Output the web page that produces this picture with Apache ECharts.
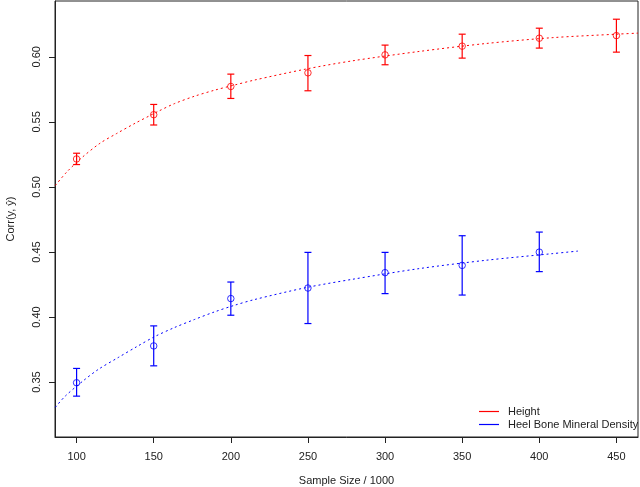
<!DOCTYPE html>
<html>
<head>
<meta charset="utf-8">
<script src="https://cdn.jsdelivr.net/npm/echarts@6/dist/echarts.min.js"></script>
<style>
html,body{margin:0;padding:0;background:#fff;}
#chart{width:640px;height:487px;}
</style>
</head>
<body>
<div id="chart"></div>
<script>
// ---- data ----
const xTicks = [100, 150, 200, 250, 300, 350, 400, 450];
const yTicks = [0.35, 0.40, 0.45, 0.50, 0.55, 0.60];

const heightSizes = [100, 150, 200, 250, 300, 350, 400, 450];
const heightMean  = [0.5215, 0.5555, 0.5772, 0.5877, 0.6015, 0.6082, 0.6143, 0.6163];
const heightLow   = [0.5172, 0.5476, 0.5680, 0.5739, 0.5939, 0.5990, 0.6067, 0.6036];
const heightHigh  = [0.5259, 0.5634, 0.5867, 0.6010, 0.6090, 0.6174, 0.6220, 0.6289];

const bmdSizes = [100, 150, 200, 250, 300, 350, 400];
const bmdMean  = [0.3495, 0.3778, 0.4142, 0.4223, 0.4341, 0.4397, 0.4499];
const bmdLow   = [0.3392, 0.3625, 0.4014, 0.3950, 0.4180, 0.4169, 0.4349];
const bmdHigh  = [0.3605, 0.3932, 0.4269, 0.4497, 0.4497, 0.4625, 0.4653];

// fitted curves
const heightCurveX = [86.2, 93.5, 103.2, 115.1, 125.9, 138.2, 147.5, 152.9, 163.4, 176.4, 189.3, 202.3, 215.2, 248.7, 278.8, 322, 365.2, 408.3, 450, 464];
const heightCurveY = [0.5011, 0.5113, 0.5223, 0.5335, 0.5410, 0.5491, 0.5548, 0.5581, 0.5640, 0.5697, 0.5743, 0.5783, 0.5821, 0.5906, 0.5969, 0.6041, 0.6102, 0.6147, 0.6174, 0.6182];
const bmdCurveX = [86.2, 92.7, 104.3, 114, 127, 138.8, 150.7, 163.4, 176.4, 189.3, 202.3, 215.2, 248.7, 278.8, 322, 365.2, 408.3, 425.1];
const bmdCurveY = [0.3306, 0.3393, 0.3510, 0.3597, 0.3689, 0.3771, 0.3850, 0.3919, 0.3981, 0.4039, 0.4090, 0.4134, 0.4226, 0.4290, 0.4372, 0.4436, 0.4487, 0.4507];

const RED = '#ff0000', BLUE = '#0000ff';
const FONT = "'Liberation Sans', Arial, Helvetica, sans-serif";

function zip(a, b) { return a.map((v, i) => [v, b[i]]); }
function barData(xs, lo, hi) { return xs.map((v, i) => [v, lo[i], hi[i]]); }

function errorBarRenderer(color) {
  return function (params, api) {
    const x = api.value(0);
    const pLo = api.coord([x, api.value(1)]);
    const pHi = api.coord([x, api.value(2)]);
    const hw = 3.5;
    const style = { stroke: color, lineWidth: 1.2, fill: null };
    return {
      type: 'group',
      children: [
        { type: 'line', shape: { x1: pLo[0], y1: pLo[1], x2: pHi[0], y2: pHi[1] }, style: style },
        { type: 'line', shape: { x1: pLo[0] - hw, y1: pLo[1], x2: pLo[0] + hw, y2: pLo[1] }, style: style },
        { type: 'line', shape: { x1: pHi[0] - hw, y1: pHi[1], x2: pHi[0] + hw, y2: pHi[1] }, style: style }
      ]
    };
  };
}

const chart = echarts.init(document.getElementById('chart'), null, { renderer: 'canvas' });
chart.setOption({
  animation: false,
  backgroundColor: '#fff',
  textStyle: { fontFamily: FONT },
  grid: { left: 55, right: 2, top: 1, bottom: 50, outerBoundsMode: 'none', containLabel: false,
    show: true, borderColor: '#222', borderWidth: 1, backgroundColor: 'transparent' },
  xAxis: {
    type: 'value', min: 86, max: 464,
    name: 'Sample Size / 1000', nameLocation: 'middle', nameGap: 38,
    nameTextStyle: { fontSize: 11, color: '#222', fontFamily: FONT },
    axisLine: { show: true, lineStyle: { color: '#222', width: 1 } },
    axisTick: { show: true, inside: false, length: 6, customValues: xTicks, lineStyle: { color: '#222' } },
    axisLabel: { customValues: xTicks, fontSize: 11, color: '#222', margin: 14, fontFamily: FONT },
    splitLine: { show: false }
  },
  yAxis: {
    type: 'value', min: 0.3078, max: 0.6429,
    name: 'Corr(y, \u0177)', nameLocation: 'middle', nameGap: 39, nameRotate: 90,
    nameTextStyle: { fontSize: 11, color: '#222', fontFamily: FONT },
    axisLine: { show: true, lineStyle: { color: '#222', width: 1 } },
    axisTick: { show: true, inside: false, length: 6, customValues: yTicks, lineStyle: { color: '#222' } },
    axisLabel: { customValues: yTicks, rotate: 90, fontSize: 11, color: '#222', margin: 13, fontFamily: FONT,
      formatter: v => v.toFixed(2) },
    splitLine: { show: false }
  },
  legend: {
    orient: 'vertical', left: 479, top: 405, padding: 0, itemGap: 0,
    itemWidth: 20, itemHeight: 1.2,
    textStyle: { fontSize: 11, color: '#222', lineHeight: 13, fontFamily: FONT, padding: [0, 0, 0, 4] },
    data: [
      { name: 'Height', icon: 'rect', itemStyle: { color: RED } },
      { name: 'Heel Bone Mineral Density', icon: 'rect', itemStyle: { color: BLUE } }
    ]
  },
  series: [
    { name: 'Height fit', type: 'line', data: zip(heightCurveX, heightCurveY), smooth: 0.3, symbol: 'none',
      lineStyle: { color: RED, width: 1, type: [2, 3] }, z: 1 },
    { name: 'BMD fit', type: 'line', data: zip(bmdCurveX, bmdCurveY), smooth: 0.3, symbol: 'none',
      lineStyle: { color: BLUE, width: 1, type: [2, 3] }, z: 1 },
    { name: 'Height', type: 'custom', renderItem: errorBarRenderer(RED), itemStyle: { color: RED },
      data: barData(heightSizes, heightLow, heightHigh), encode: { x: 0, y: [1, 2] }, z: 2 },
    { name: 'Heel Bone Mineral Density', type: 'custom', renderItem: errorBarRenderer(BLUE), itemStyle: { color: BLUE },
      data: barData(bmdSizes, bmdLow, bmdHigh), encode: { x: 0, y: [1, 2] }, z: 2 },
    { name: 'Height points', type: 'scatter', data: zip(heightSizes, heightMean), symbol: 'circle', symbolSize: 6.5,
      itemStyle: { color: 'rgba(0,0,0,0)', borderColor: RED, borderWidth: 1 }, z: 3 },
    { name: 'BMD points', type: 'scatter', data: zip(bmdSizes, bmdMean), symbol: 'circle', symbolSize: 6.5,
      itemStyle: { color: 'rgba(0,0,0,0)', borderColor: BLUE, borderWidth: 1 }, z: 3 }
  ]
});
</script>
</body>
</html>
